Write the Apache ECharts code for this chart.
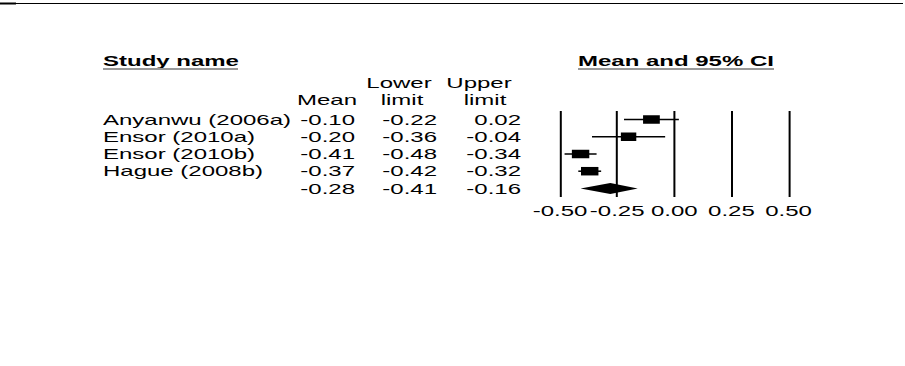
<!DOCTYPE html>
<html><head><meta charset="utf-8">
<script src="https://cdn.jsdelivr.net/npm/echarts@6/dist/echarts.min.js"></script>
<style>
html,body{margin:0;padding:0;background:#fff;overflow:hidden;}
#wrap{width:905px;height:366px;overflow:hidden;position:relative;}
#chart{width:565.625px;height:366px;transform:scaleX(1.6);transform-origin:0 0;}
</style></head><body><div id="wrap"><div id="chart"></div></div>
<script>
// ---- data ----
const studyNames = ['Anyanwu (2006a)', 'Ensor (2010a)', 'Ensor (2010b)', 'Hague (2008b)'];
const means  = [-0.10, -0.20, -0.41, -0.37];
const lowers = [-0.22, -0.36, -0.48, -0.42];
const uppers = [0.02, -0.04, -0.34, -0.32];
const weights = [25, 23, 26, 26]; // relative weights (box size)
const summaryMean = -0.28, summaryLower = -0.41, summaryUpper = -0.16;
const xTicks = [-0.50, -0.25, 0.00, 0.25, 0.50];
const headers = { study: 'Study name', plot: 'Mean and 95% CI', mean: 'Mean', lower: ['Lower', 'limit'], upper: ['Upper', 'limit'] };

// ---- layout (design space is stretched 1.6x horizontally) ----
const S = 1.6;
const FONT = '"Liberation Sans", Arial, sans-serif';
const px = x => x / S;

const rows = studyNames.map((n, i) => [i, means[i], lowers[i], uppers[i], weights[i], 0]);
rows.push([studyNames.length, summaryMean, summaryLower, summaryUpper, 0, 1]);
const yCats = studyNames.concat(['']);

const colRight = [px(355), px(437), px(521)];

function txt(x, y, text, opt) {
  return Object.assign({ type: 'text', x: x, y: y, style: Object.assign({
    text: text, fill: '#000', font: '15px ' + FONT, textAlign: 'left', textVerticalAlign: 'middle'
  }, opt || {}) });
}

const chart = echarts.init(document.getElementById('chart'), null, { renderer: 'svg' });
chart.setOption({
  backgroundColor: '#fff',
  animation: false,
  grid: { left: px(560), right: 905 / S - px(788), top: 111, bottom: 366 - 197, containLabel: false },
  xAxis: {
    type: 'value', min: xTicks[0], max: xTicks[xTicks.length - 1], interval: 0.25,
    axisLine: { show: false }, axisTick: { show: false },
    splitLine: { show: true, lineStyle: { color: '#000', width: 1.25 } },
    axisLabel: { show: true, color: '#000', fontSize: 15, fontFamily: FONT, margin: 6,
      showMinLabel: true, showMaxLabel: true, hideOverlap: false,
      formatter: v => v.toFixed(2) }
  },
  yAxis: {
    type: 'category', data: yCats, inverse: true,
    axisLine: { show: false }, axisTick: { show: false }, splitLine: { show: false },
    axisLabel: { interval: 0, align: 'left', margin: px(560) - px(103), color: '#000', fontSize: 15, fontFamily: FONT }
  },
  graphic: [
    { type: 'rect', shape: { x: 0, y: 2.5, width: px(16), height: 2 }, style: { fill: '#000' } },
    { type: 'line', shape: { x1: 0, y1: 3.5, x2: px(903), y2: 3.5 }, style: { stroke: '#000', lineWidth: 1 } },
    txt(px(103), 61, headers.study, { font: 'bold 15px ' + FONT }),
    { type: 'line', shape: { x1: px(103), y1: 69, x2: px(238), y2: 69 }, style: { stroke: '#999', lineWidth: 2 } },
    txt(px(578), 61, headers.plot, { font: 'bold 15px ' + FONT }),
    { type: 'line', shape: { x1: px(578), y1: 69, x2: px(774), y2: 69 }, style: { stroke: '#999', lineWidth: 2 } },
    txt(px(327), 99.5, headers.mean, { textAlign: 'center' }),
    txt(px(399), 82.5, headers.lower[0], { textAlign: 'center' }),
    txt(px(402), 99.5, headers.lower[1], { textAlign: 'center' }),
    txt(px(479), 82.5, headers.upper[0], { textAlign: 'center' }),
    txt(px(485), 99.5, headers.upper[1], { textAlign: 'center' })
  ],
  series: [{
    type: 'custom',
    clip: false,
    encode: { x: [1, 2, 3], y: 0 },
    data: rows,
    renderItem: function (params, api) {
      const i = api.value(0), m = api.value(1), lo = api.value(2), hi = api.value(3), w = api.value(4), summ = api.value(5);
      const c = api.coord([m, i]), pl = api.coord([lo, i]), ph = api.coord([hi, i]);
      const y = c[1];
      const ch = [];
      if (!summ) {
        ch.push({ type: 'line', shape: { x1: pl[0], y1: y, x2: ph[0], y2: y }, style: { stroke: '#000', lineWidth: 1.5 } });
        const bw = w * 0.67 / S, bh = 8.5;
        ch.push({ type: 'rect', shape: { x: c[0] - bw / 2, y: y - bh / 2, width: bw, height: bh }, style: { fill: '#000' } });
      } else {
        ch.push({ type: 'polygon', shape: { points: [[pl[0], y], [c[0], y - 5.5], [ph[0], y], [c[0], y + 5.5]] }, style: { fill: '#000' } });
      }
      [m, lo, hi].forEach((v, k) => {
        ch.push({ type: 'text', x: colRight[k], y: y, style: { text: v.toFixed(2), fill: '#000', font: '15px ' + FONT, textAlign: 'right', textVerticalAlign: 'middle' } });
      });
      return { type: 'group', children: ch };
    }
  }]
});
</script></body></html>
